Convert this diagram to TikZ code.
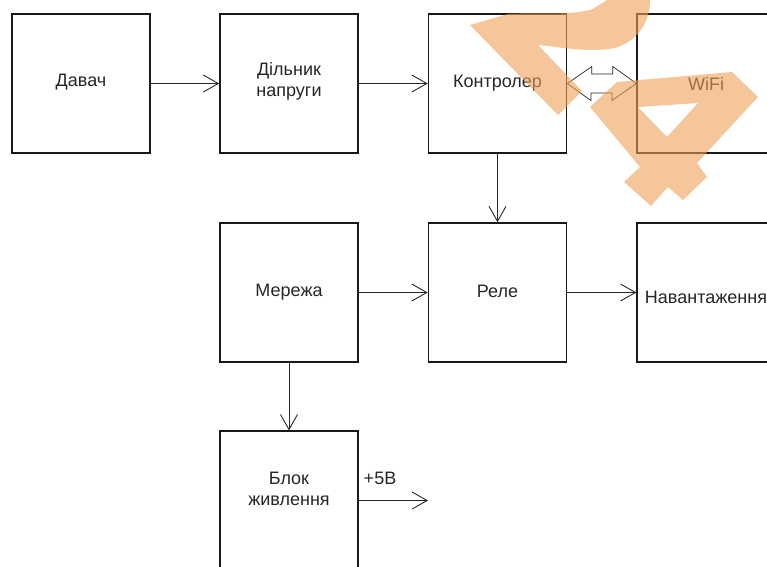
\documentclass[tikz,border=0pt]{standalone}
\usepackage{fontspec}
\setmainfont{Liberation Sans}
\usetikzlibrary{arrows.meta,calc}
\definecolor{wm}{RGB}{238,160,88}
\newcommand{\twoline}[2]{\begin{tabular}{@{}c@{}}#1\\#2\end{tabular}}
\newcommand{\shifted}[2]{\raisebox{#1}[\height][\depth]{#2}}
\begin{document}
\begin{tikzpicture}[x=1pt,y=-1pt,
  box/.style={draw=black!90, line width=1.6pt, minimum width=138pt, minimum height=139pt, inner sep=0pt, align=center, font=\fontsize{18}{21}\selectfont, text=black!85},
  lbl/.style={inner sep=0pt, font=\fontsize{18}{21}\selectfont, text=black!85},
  arr/.style={draw=black!85, line width=0.9pt, -{Straight Barb[length=15pt,width=17pt]}},
  wmark/.style={fill=wm, fill opacity=0.6, draw=none}]
\useasboundingbox (0,0) rectangle (767,566);
\clip (0,0) rectangle (767,566);
\fill[white] (0,0) rectangle (767,566);
% row 1
\node[box] (davach) at (81,83.5) {\shifted{1pt}{Давач}};
\node[box] (dilnyk) at (289,83.5) {\shifted{2pt}{\twoline{Дільник}{напруги}}};
\node[box] (ctrl) at (497.5,83.5) {Контролер};
\node[box, line width=1.2pt] (wifi) at (706,83.5) {WiFi};
% row 2
\node[box] (merezha) at (289,292.5) {Мережа};
\node[box] (rele) at (497.5,292.5) {\shifted{1.5pt}{Реле}};
\node[box, line width=1.2pt] (navant) at (706,292.5) {\shifted{-5pt}{Навантаження}};
% row 3
\node[box, line width=1.2pt] (blok) at (289,500.5) {\shifted{10pt}{\twoline{Блок}{живлення}}};
\coordinate (p5) at (428,500.5);
\node[lbl] (v5) at (380,478) {+5В};
% connectors
\draw[arr] (davach.east) -- (dilnyk.west);
\draw[arr] (dilnyk.east) -- (ctrl.west);
\draw[arr] (ctrl.south) -- (rele.north);
\draw[arr] (merezha.east) -- (rele.west);
\draw[arr] (rele.east) -- (navant.west);
\draw[arr] (merezha.south) -- (blok.north);
\draw[arr] (blok.east) -- (p5);
% double block arrow
\draw[black!85, line width=0.7pt, line join=miter] (ctrl.east) -- ++(24.5,-17) -- ++(0,7.5) -- ++(21,0) -- ++(0,-7.5) -- (wifi.west)
  -- ++(-24.5,17) -- ++(0,-7.5) -- ++(-21,0) -- ++(0,7.5) -- cycle;
% watermark
\path[wmark] (470,25) -- (508,14) .. controls (540,12) and (570,16) .. (593,9) -- (607,0) -- (650,0)
  .. controls (650,20) and (640,40) .. (615,48) .. controls (590,53) and (560,47) .. (538,45)
  -- (582,91) -- (558,115) -- cycle;
\path[wmark, even odd rule] (590,107) -- (617,82) -- (732,72) -- (758,97) -- (697,163) -- (707,177)
  -- (683,200) -- (668,187) -- (651,206) -- (624,182) -- (640,167) -- cycle
  (638,107) -- (698,103) -- (667,137) -- cycle;
\end{tikzpicture}
\end{document}
